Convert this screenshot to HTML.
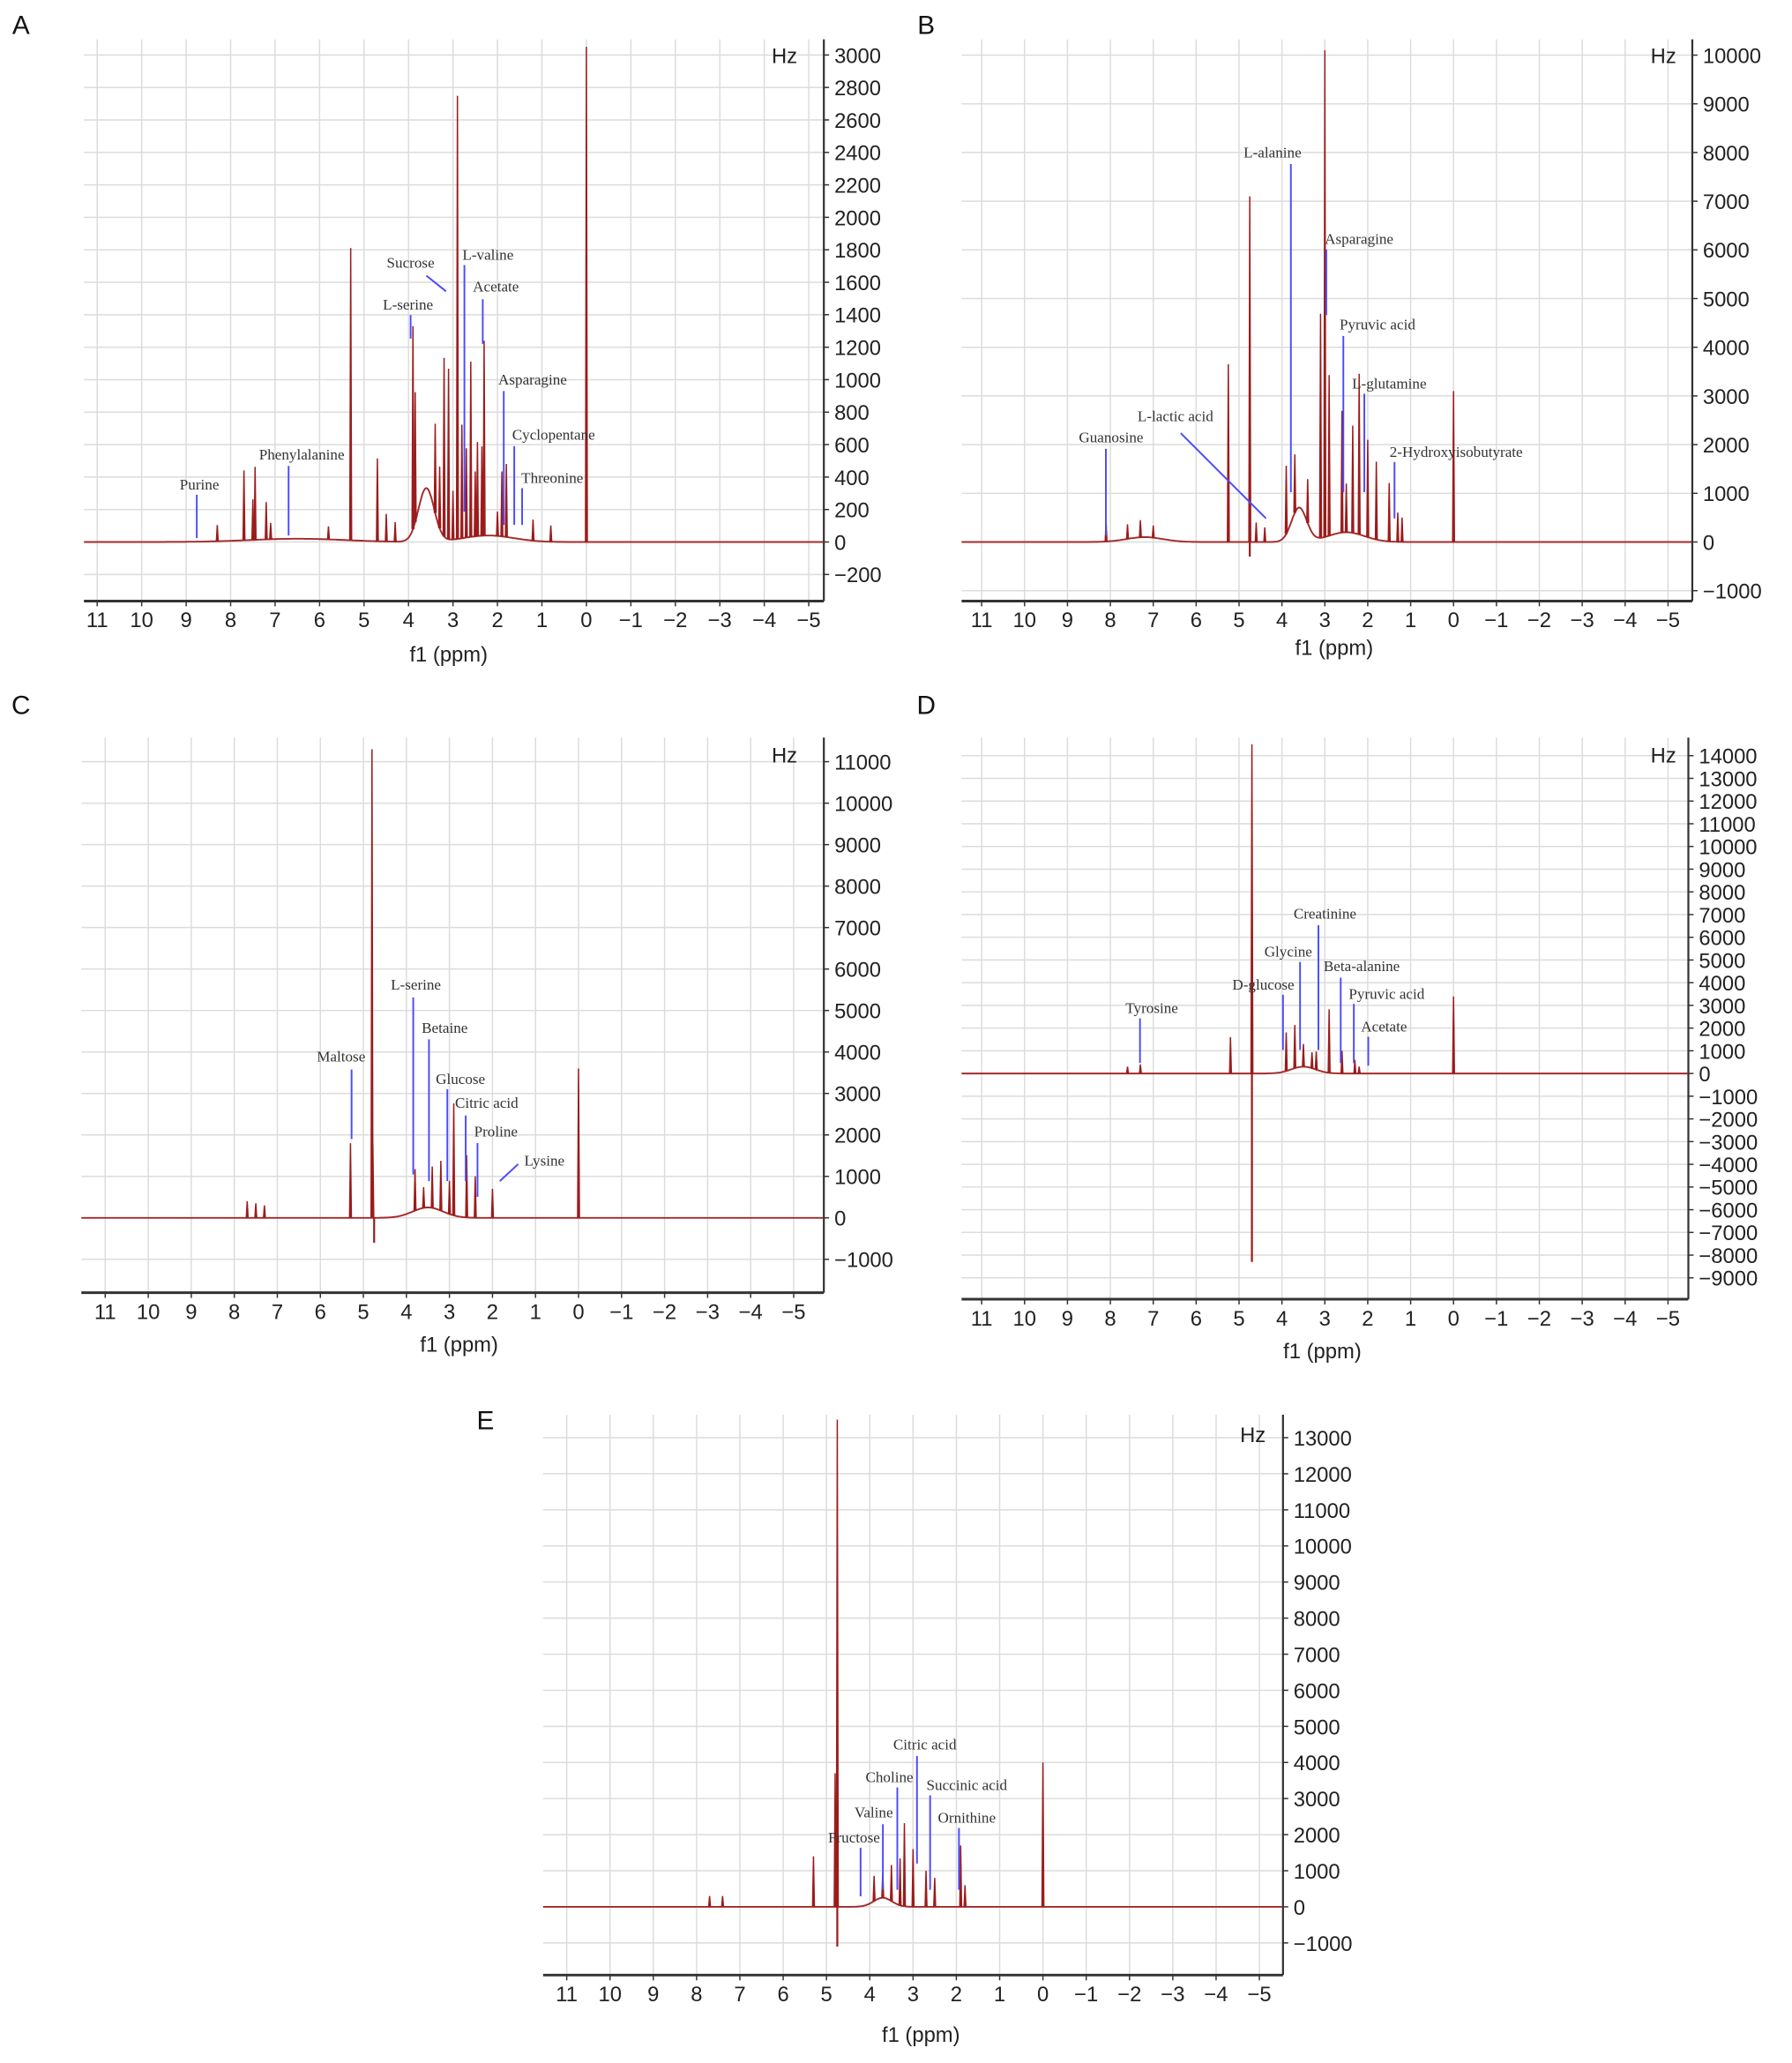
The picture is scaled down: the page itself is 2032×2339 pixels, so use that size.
<!DOCTYPE html>
<html><head><meta charset="utf-8"><style>
html,body{margin:0;padding:0;background:#fff;}
svg{display:block;}
.tk{font-family:"Liberation Sans",sans-serif;font-size:16px;fill:#222;}
.lb{font-family:"Liberation Serif",serif;font-size:11.5px;fill:#333;}
.pl{font-family:"Liberation Sans",sans-serif;font-size:20px;fill:#111;}
</style></head><body>
<svg id="fig" width="2032" height="2339" viewBox="0 0 1366 1572" preserveAspectRatio="none" xmlns="http://www.w3.org/2000/svg"></svg>
<script>
// ---- data arrays (ppm / Hz) ----
const xTicks = [11,10,9,8,7,6,5,4,3,2,1,0,-1,-2,-3,-4,-5];
const yTicksA = [-200,0,200,400,600,800,1000,1200,1400,1600,1800,2000,2200,2400,2600,2800,3000];
const yTicksB = [-1000,0,1000,2000,3000,4000,5000,6000,7000,8000,9000,10000];
const yTicksC = [-1000,0,1000,2000,3000,4000,5000,6000,7000,8000,9000,10000,11000];
const yTicksD = [-9000,-8000,-7000,-6000,-5000,-4000,-3000,-2000,-1000,0,1000,2000,3000,4000,5000,6000,7000,8000,9000,10000,11000,12000,13000,14000];
const yTicksE = [-1000,0,1000,2000,3000,4000,5000,6000,7000,8000,9000,10000,11000,12000,13000];

const peakPpmA = [0.0,2.9,5.3,3.9,3.85,3.2,3.1,2.8,2.6,2.45,2.3,2.35,1.9,1.8,3.4,4.7,7.7,7.45,7.5,7.2,8.3,4.5,1.2,0.8,3.3,2.7,3.0,2.5,2.0,4.3,5.8,7.1];
const peakHzA  = [3050,2730,1800,1250,800,1100,1050,700,1080,580,1200,550,400,450,550,510,430,450,250,230,100,170,130,100,380,550,300,400,150,120,80,100];
const humpA = [[3.6,0.25,330],[2.2,0.8,40],[6.5,1.5,20]];

const peakPpmB = [3.0,4.75,5.25,3.7,3.1,2.9,2.6,2.2,2.0,1.8,1.5,0.0,8.1,7.3,3.9,2.5,3.4,2.35,1.3,1.2,7.6,7.0,4.4,4.6];
const peakHzB  = [10000,7100,3650,1200,4600,3300,2500,3300,2000,1600,1200,3100,400,350,1400,1000,900,2200,600,500,300,250,300,400];
const humpB = [[3.6,0.25,700],[2.5,0.6,200],[7.2,0.6,100]];

const peakPpmC = [4.8,5.3,4.78,0.0,3.8,3.4,3.2,2.6,2.9,2.4,2.0,7.7,7.5,7.3,3.6,3.0];
const peakHzC  = [11300,1800,1800,3600,1000,1000,1200,1500,2700,1000,700,400,350,300,500,800];
const humpC = [[3.5,0.5,250]];

const peakPpmD = [4.7,5.2,0.0,3.9,3.7,3.5,3.2,2.9,2.6,2.3,7.6,7.3,3.3,2.2];
const peakHzD  = [14500,1600,3400,1700,1900,1000,800,2800,1000,600,300,400,700,300];
const humpD = [[3.5,0.4,300]];

const peakPpmE = [4.75,4.8,5.3,0.0,3.9,3.5,3.3,3.0,2.7,1.9,1.8,7.7,7.4,3.7,3.2,2.5];
const peakHzE  = [13500,3700,1400,4000,700,1000,1300,1600,1000,1700,600,300,300,700,2300,800];
const humpE = [[3.7,0.3,250]];

const svg = document.getElementById('fig');
const NS = 'http://www.w3.org/2000/svg';
function mk(tag, attrs, parent){
  const e = document.createElementNS(NS, tag);
  for (const k in attrs) e.setAttribute(k, attrs[k]);
  parent.appendChild(e); return e;
}

function panel(cfg){
  const g = mk('g', {}, svg);
  
  
  const x = p => cfg.x0 - cfg.kx * p;
  const y = v => cfg.y0 - cfg.ky * v / 1000;
  const grid = mk('g', {stroke:'#dcdcdc','stroke-width':1}, g);
  
  
  xTicks.forEach(t => mk('line',{x1:x(t),x2:x(t),y1:cfg.top,y2:cfg.bot},grid));
  cfg.yt.forEach(t => { if (y(t) > cfg.top && y(t) < cfg.bot) mk('line',{x1:cfg.left,x2:cfg.right,y1:y(t),y2:y(t)},grid); });
  const ax = mk('line',{x1:cfg.left,x2:cfg.right,y1:cfg.bot,y2:cfg.bot,stroke:'#333','stroke-width':2},g);
  
  
  const ay = mk('line',{x1:cfg.right,x2:cfg.right,y1:cfg.top,y2:cfg.bot,stroke:'#333','stroke-width':1.5},g);
  
  
  xTicks.forEach(t => {
    mk('line',{x1:x(t),x2:x(t),y1:cfg.bot,y2:cfg.bot+4,stroke:'#333'},g);
    const tx = mk('text',{x:x(t),y:cfg.bot+20,'text-anchor':'middle',class:'tk'},g);
    tx.textContent = t < 0 ? '\u2212' + (-t) : String(t);
    
    
  });
  cfg.yt.forEach(t => {
    mk('line',{x1:cfg.right,x2:cfg.right+4,y1:y(t),y2:y(t),stroke:'#333'},g);
    const tx = mk('text',{x:cfg.right+8,y:y(t)+6,class:'tk'},g);
    tx.textContent = t < 0 ? '\u2212' + (-t) : String(t);
    
    
  });
  const base = p => { let s = 0; cfg.hump.forEach(h => { s += h[2]*Math.exp(-Math.pow((p-h[0])/h[1],2)); }); return s; };
  let d = '';
  const pmax = (cfg.right - cfg.x0) / -cfg.kx, pmin = (cfg.left - cfg.x0) / -cfg.kx;
  for (let p = pmin; p >= pmax; p -= 0.02) d += (d ? 'L' : 'M') + x(p).toFixed(1) + ',' + y(base(p)).toFixed(1);
  const bl = mk('path',{d:d,fill:'none',stroke:'#a52a2a','stroke-width':1.3},g);
  
  
  cfg.pp.forEach((p,i) => {
    const b = y(base(p)), t = y(cfg.ph[i] + base(p));
    const pk = mk('path',{d:`M${x(p)-0.7},${b}L${x(p)},${t}L${x(p)+0.7},${b}`,fill:'#9b1c1c',stroke:'#9b1c1c','stroke-width':1},g);
    
    
  });
  if (cfg.dip) {
    const dp = mk('path',{d:`M${x(cfg.dip[0])},${y(0)}L${x(cfg.dip[0])},${y(cfg.dip[1])}`,stroke:'#9b1c1c','stroke-width':1.5},g);
    
    
  }
  cfg.ann.forEach(a => {
    const l = mk('line',{x1:a[3],y1:a[4],x2:a[5],y2:a[6],stroke:'#4a4aff','stroke-width':1.3},g);
    
    
    const t = mk('text',{x:a[1],y:a[2],'text-anchor':'middle',class:'lb'},g);
    t.textContent = a[0];
    
    
  });
  const hz = mk('text',{x:cfg.hz[0],y:cfg.hz[1],'text-anchor':'middle',class:'tk'},g);
  hz.textContent = 'Hz';
  
  
  const xl = mk('text',{x:cfg.xl[0],y:cfg.xl[1],'text-anchor':'middle',class:'tk'},g);
  xl.textContent = 'f1 (ppm)';
  
  
  const pl = mk('text',{x:cfg.pl[0],y:cfg.pl[1],'text-anchor':'middle',class:'pl'},g);
  pl.textContent = cfg.id;
  
  
}

panel({id:'A',x0:447,kx:33.9,y0:413,ky:123.7,left:64,right:628,top:30,bot:458,yt:yTicksA,pp:peakPpmA,ph:peakHzA,hump:humpA,
  hz:[598,48],xl:[342,504],pl:[16,26],
  ann:[['Purine',152,373,150,377,150,410],['Phenylalanine',230,350,220,355,220,408],['L-serine',311,236,313,240,313,258],
  ['Sucrose',313,204,325,210,340,222],['L-valine',372,198,354,202,354,390],['Acetate',378,222,368,228,368,262],
  ['Asparagine',406,293,384,298,384,400],['Cyclopentane',422,335,392,340,392,400],['Threonine',421,368,398,372,398,400]]});

panel({id:'B',x0:1108,kx:32.7,y0:413,ky:37.1,left:733,right:1290,top:30,bot:458,yt:yTicksB,pp:peakPpmB,ph:peakHzB,hump:humpB,dip:[4.75,-300],
  hz:[1268,48],xl:[1017,499],pl:[706,26],
  ann:[['L-alanine',970,120,984,125,984,375],['Asparagine',1036,186,1011,190,1011,240],['Pyruvic acid',1050,251,1024,256,1024,375],
  ['L-glutamine',1059,296,1040,300,1040,375],['2-Hydroxyisobutyrate',1110,348,1063,352,1063,395],['L-lactic acid',896,321,900,330,965,395],
  ['Guanosine',847,337,843,342,843,408]]});

panel({id:'C',x0:441,kx:32.8,y0:928,ky:31.6,left:62,right:628,top:562,bot:985,yt:yTicksC,pp:peakPpmC,ph:peakHzC,hump:humpC,dip:[4.75,-600],
  hz:[598,581],xl:[350,1030],pl:[16,544],
  ann:[['Maltose',260,809,268,815,268,868],['L-serine',317,754,315,760,315,895],['Betaine',339,787,327,792,327,900],
  ['Glucose',351,826,341,830,341,900],['Citric acid',371,844,355,850,355,900],['Proline',378,866,364,871,364,912],['Lysine',415,888,395,887,381,900]]});

panel({id:'D',x0:1108,kx:32.7,y0:818,ky:17.3,left:733,right:1287,top:562,bot:990,yt:yTicksD,pp:peakPpmD,ph:peakHzD,hump:humpD,dip:[4.7,-8300],
  hz:[1268,581],xl:[1008,1035],pl:[706,544],
  ann:[['Tyrosine',878,772,869,776,869,810],['D-glucose',963,754,978,758,978,800],['Glycine',982,729,991,733,991,800],
  ['Creatinine',1010,700,1005,705,1005,800],['Beta-alanine',1038,740,1022,745,1022,810],['Pyruvic acid',1057,761,1032,765,1032,810],
  ['Acetate',1055,786,1043,790,1043,812]]});

panel({id:'E',x0:795,kx:33,y0:1453,ky:27.5,left:414,right:978,top:1078,bot:1505,yt:yTicksE,pp:peakPpmE,ph:peakHzE,hump:humpE,dip:[4.75,-1100],
  hz:[955,1099],xl:[702,1556],pl:[370,1089],
  ann:[['Citric acid',705,1333,699,1338,699,1420],['Choline',678,1358,684,1362,684,1440],['Succinic acid',737,1364,709,1368,709,1440],
  ['Valine',666,1385,673,1390,673,1440],['Fructose',651,1404,656,1408,656,1445],['Ornithine',737,1389,731,1393,731,1440]]});
</script>
</body></html>
